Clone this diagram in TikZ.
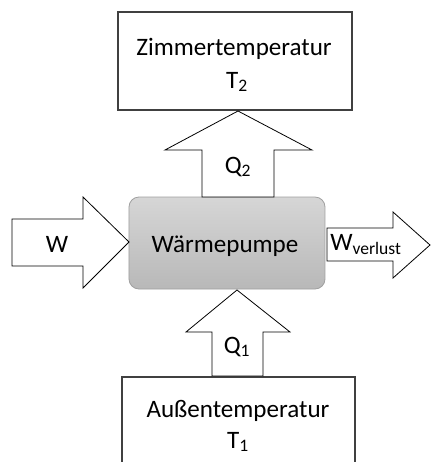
\documentclass[tikz,border=0pt]{standalone}
\usepackage{fontspec}
\setmainfont{Carlito}
\definecolor{boxline}{RGB}{64,64,64}
\definecolor{pumptop}{RGB}{214,214,214}
\definecolor{pumpbot}{RGB}{184,184,184}
\definecolor{pumpline}{RGB}{160,160,160}
\tikzset{
  tempbox/.style={draw=boxline, line width=0.9pt, fill=white},
  blockarrow/.style={draw=black, line width=0.6pt, fill=white, line join=miter},
  lbl/.style={font=\fontsize{18.8}{22}\selectfont, inner sep=0pt, anchor=base, text=black},
}
\begin{document}
\begin{tikzpicture}[x=0.75pt,y=-0.75pt]
\clip (0,0) rectangle (433,462);
\fill[white] (0,0) rectangle (433,462);
% boxes
\draw[tempbox] (118,12) rectangle (352,110);
\coordinate (topbox) at (235,110);
\draw[tempbox] (122,377) rectangle (355,480);
\coordinate (botbox) at (237,377);
% heat pump
\draw[pumpline, line width=0.6pt, rounded corners=7.5pt, top color=pumptop, bottom color=pumpbot] (129,197) rectangle (325,289);
\node[lbl] (pump) at (225,252) {Wärmepumpe};
% Q2 arrow
\draw[blockarrow] (202,197) -- (202,150) -- (165,150) -- (238,111) -- (312,150) -- (274,150) -- (274,197) -- cycle;
\node[lbl] (q2) at (238,173) {Q\textsubscript{2}};
% Q1 arrow
\draw[blockarrow] (212,376) -- (212,332) -- (186,332) -- (237,290) -- (290,332) -- (263,332) -- (263,376) -- cycle;
\node[lbl] (q1) at (237,353) {Q\textsubscript{1}};
% W arrow
\draw[blockarrow] (12,219) -- (83,219) -- (83,197) -- (129,242) -- (83,288) -- (83,266) -- (12,266) -- cycle;
\node[lbl] (w) at (57,252) {W};
% W verlust arrow
\draw[blockarrow] (327,228) -- (393,228) -- (393,212) -- (430,245) -- (393,278) -- (393,261) -- (327,261) -- cycle;
\node[lbl, anchor=base west] (wv) at (330,250) {W\textsubscript{verlust}};
% box texts
\node[lbl] (zt1) at (234,55) {Zimmertemperatur};
\node[lbl] (zt2) at (237,88) {T\textsubscript{2}};
\node[lbl] (at1) at (238,417) {Außentemperatur};
\node[lbl] (at2) at (238,448) {T\textsubscript{1}};
\end{tikzpicture}
\end{document}
